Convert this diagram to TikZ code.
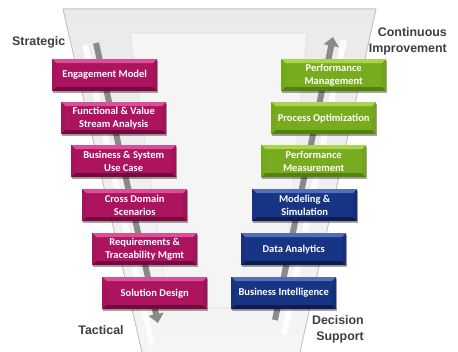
\documentclass[tikz,border=0pt]{standalone}
\usepackage{fontspec}
\setmainfont{Liberation Sans}
\newfontfamily\boxfont{Carlito}
\usetikzlibrary{shadows,arrows.meta}
\definecolor{mag}{RGB}{172,20,96}
\definecolor{magL}{RGB}{218,80,150}
\definecolor{magD}{RGB}{118,8,62}
\definecolor{grn}{RGB}{120,172,30}
\definecolor{grnL}{RGB}{170,212,75}
\definecolor{grnD}{RGB}{84,128,14}
\definecolor{blu}{RGB}{24,52,132}
\definecolor{bluL}{RGB}{80,110,185}
\definecolor{bluD}{RGB}{12,28,82}
\definecolor{lbl}{RGB}{62,62,62}
\definecolor{funA}{RGB}{234,234,234}
\definecolor{funB}{RGB}{245,245,245}
\definecolor{funE}{RGB}{196,196,196}
\definecolor{arr}{RGB}{138,138,138}
\tikzset{
  box/.style={minimum width=105pt, minimum height=32pt, inner sep=0pt, align=center,
    text=white, anchor=north west,
    font=\boxfont\bfseries\fontsize{10.5}{13.5}\selectfont,
    drop shadow={shadow xshift=1.2pt, shadow yshift=-1.6pt, opacity=0.35, fill=black}},
  bev/.style n args={3}{fill=#1, path picture={
    \fill[#2] (path picture bounding box.north west) -- (path picture bounding box.north east)
      -- ([shift={(-4pt,-4pt)}]path picture bounding box.north east)
      -- ([shift={(4pt,-4pt)}]path picture bounding box.north west) -- cycle;
    \fill[#3] (path picture bounding box.south west) -- (path picture bounding box.south east)
      -- ([shift={(-4pt,4pt)}]path picture bounding box.south east)
      -- ([shift={(4pt,4pt)}]path picture bounding box.south west) -- cycle;
    \fill[#1!80!#3] (path picture bounding box.north east)
      -- ([shift={(-4pt,-4pt)}]path picture bounding box.north east)
      -- ([shift={(-4pt,4pt)}]path picture bounding box.south east)
      -- (path picture bounding box.south east) -- cycle;
    \fill[#1!88!#3] (path picture bounding box.north west)
      -- ([shift={(4pt,-4pt)}]path picture bounding box.north west)
      -- ([shift={(4pt,4pt)}]path picture bounding box.south west)
      -- (path picture bounding box.south west) -- cycle;
  }},
  magbox/.style={box, bev={mag}{magL}{magD}},
  grnbox/.style={box, bev={grn}{grnL}{grnD}},
  blubox/.style={box, bev={blu}{bluL}{bluD}},
  lab/.style={text=lbl, font=\bfseries\fontsize{12.4}{16.5}\selectfont, inner sep=0pt},
  flow/.style={draw=arr, line width=6pt, -{Triangle[width=15pt,length=9pt]}},
  rail/.style={draw=white, line width=6pt, opacity=0.85}
}
\begin{document}
\begin{tikzpicture}[x=1pt,y=-1pt]
\fill[white] (0,0) rectangle (458,352);
\useasboundingbox (0,0) rectangle (458,352);
% funnel
\fill[top color=funA, bottom color=funB] (63,9) -- (376,9) -- (300,352) -- (142,352) -- cycle;
\draw[funE, line width=0.8pt] (142,352) -- (63,9) -- (376,9) -- (300,352);
\fill[funB] (130,33) -- (307,33) -- (282,308) -- (168,308) -- cycle;
\draw[gray!25, line width=0.6pt] (168,308) -- (130,33) -- (307,33) -- (282,308) -- cycle;
% rails beside the arrows
\draw[rail] (85,45) -- (152,345);
\draw[rail] (344,40) -- (284,335);
% arrows
\coordinate (ls) at (96,43);
\coordinate (le) at (158,323);
\coordinate (rs) at (275,320);
\coordinate (re) at (333,37);
\draw[flow] (ls) -- (le);
\draw[flow] (rs) -- (re);
% left boxes
\node[magbox] (b1) at (52,59) {Engagement Model};
\node[magbox] (b2) at (61,102) {Functional \& Value\\Stream Analysis};
\node[magbox] (b3) at (71,145) {Business \& System\\Use Case};
\node[magbox] (b4) at (82,189) {Cross Domain\\Scenarios};
\node[magbox] (b5) at (92,233) {Requirements \&\\Traceability Mgmt};
\node[magbox] (b6) at (102,277) {Solution Design};
% right boxes
\node[grnbox] (g1) at (281,59) {Performance\\Management};
\node[grnbox] (g2) at (271,102) {Process Optimization};
\node[grnbox] (g3) at (261,145) {Performance\\Measurement};
\node[blubox] (u1) at (252,189) {Modeling \&\\Simulation};
\node[blubox] (u2) at (241,233) {Data Analytics};
\node[blubox] (u3) at (231,277) {Business Intelligence};
% labels
\node[lab, anchor=west] (strat) at (12,42) {Strategic};
\node[lab, anchor=east, align=right] (cont) at (447,41.5) {Continuous\\Improvement};
\node[lab] (tact) at (101,330) {Tactical};
\node[lab, anchor=east, align=right] (dec) at (364,329.5) {Decision\\Support};
\end{tikzpicture}
\end{document}
